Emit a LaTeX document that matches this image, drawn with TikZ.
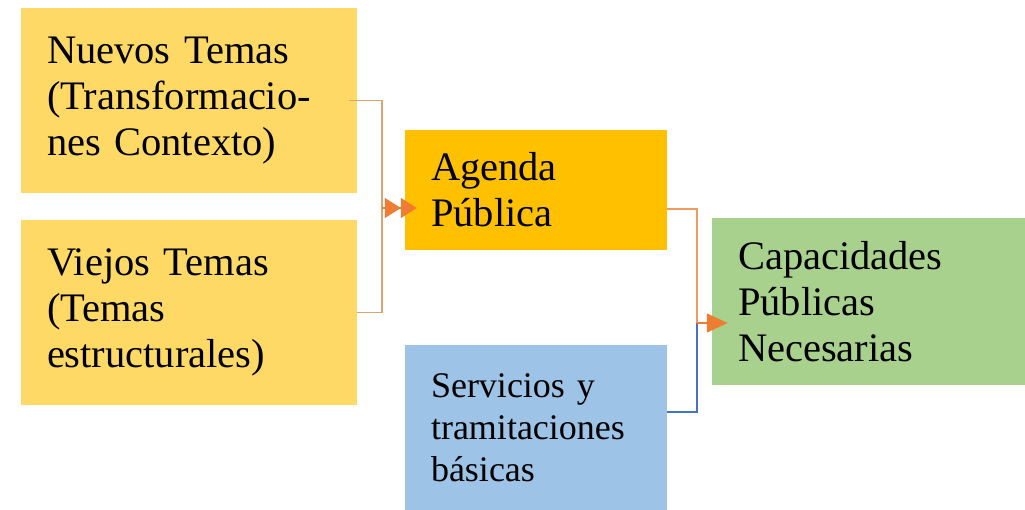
\documentclass[tikz,border=0pt]{standalone}
\usepackage{fontspec}
\setmainfont{Liberation Serif}
\usetikzlibrary{arrows.meta}
\definecolor{gold}{HTML}{FFD966}
\definecolor{amber}{HTML}{FFC000}
\definecolor{lblue}{HTML}{9DC3E6}
\definecolor{lgreen}{HTML}{A9D18E}
\definecolor{tanline}{HTML}{D9A574}
\definecolor{lorng}{HTML}{F09A62}
\definecolor{orng}{HTML}{ED7D31}
\definecolor{bline}{HTML}{4472C4}
\begin{document}
\begin{tikzpicture}[x={(1pt,0)},y={(0,-1pt)},
  box/.style={rectangle, inner xsep=26pt, inner ysep=0pt, align=left, anchor=center},
  bigtext/.style={font=\fontsize{40.5}{46}\selectfont},
  smalltext/.style={font=\fontsize{36}{42}\selectfont},
  conn/.style={line width=1.2pt},
  tip/.style={-{Triangle[length=21pt,width=19pt]}, orng, line width=1.2pt, shorten >=-16pt},
  dtip/.style={-{Triangle[length=16pt,width=20pt]Triangle[length=16pt,width=20pt]}, orng, line width=1.2pt, shorten >=-12pt}]
\fill[white] (0,0) rectangle (1025,510);
\useasboundingbox (0,0) rectangle (1025,510);
\node[box, bigtext, fill=gold, text width=284pt, minimum height=185pt] (A) at (189,100.5)
  {Nuevos Temas\\(Transformacio-\\nes Contexto)};
\node[box, bigtext, fill=gold, text width=284pt, minimum height=185pt] (B) at (189,312.5)
  {Viejos Temas\\(Temas\\estructurales)};
\node[box, bigtext, fill=amber, text width=210pt, minimum height=120pt] (AG) at (536,190)
  {Agenda\\Pública};
\node[box, smalltext, fill=lblue, text width=210pt, minimum height=165pt] (SV) at (536,427.5)
  {Servicios y\\tramitaciones\\básicas};
\node[box, bigtext, fill=lgreen, text width=261pt, minimum height=167pt] (CP) at (868.5,301.5)
  {Capacidades\\Públicas\\Necesarias};
\coordinate (j1) at (382,208);
\coordinate (j2) at (697,323);
\draw[conn, tanline] ([xshift=-8pt]A.east) -| (j1) |- (B.east);
\draw[dtip] (j1) -- ([yshift=-18pt]AG.west);
\draw[conn, lorng] ([yshift=-19pt]AG.east) -| (j2);
\draw[conn, bline] ([yshift=15.5pt]SV.east) -| (j2);
\draw[tip] (j2) -- ([yshift=-21.5pt]CP.west);
\end{tikzpicture}
\end{document}
